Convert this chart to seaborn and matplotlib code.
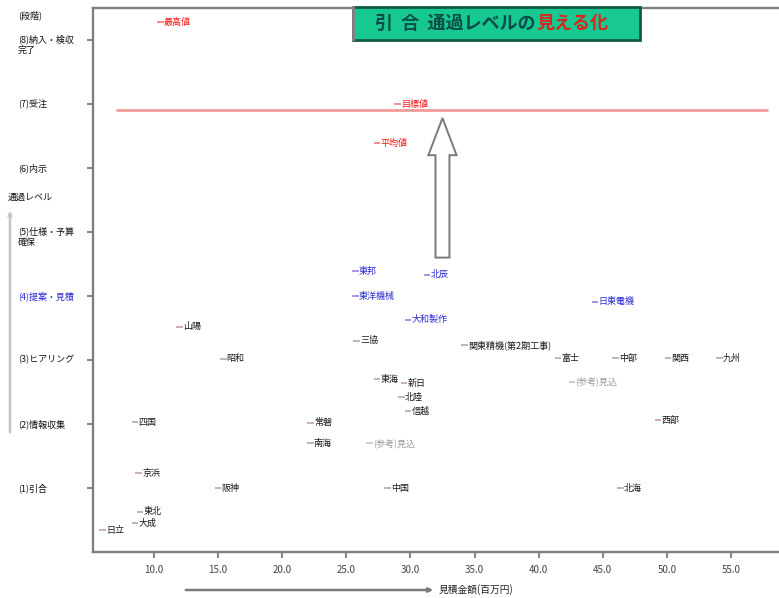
import matplotlib
matplotlib.use("Agg")
import matplotlib.pyplot as plt
import matplotlib.patches as mpatches
import matplotlib.transforms as mtransforms
import seaborn as sns
import pandas as pd

# ---- data -------------------------------------------------------------
level_ticks = [1, 2, 3, 4, 5, 6, 7, 8]
level_names = ["(1)引合", "(2)情報収集", "(3)ヒアリング", "(4)提案・見積",
               "(5)仕様・予算\n確保", "(6)内示", "(7)受注", "(8)納入・検収\n完了"]
price_ticks = [10, 15, 20, 25, 30, 35, 40, 45, 50, 55]

names = ["最高値", "目標値", "平均値",
         "東邦", "北辰", "東洋機械", "大和製作", "日東電機",
         "山陽", "三協", "関東精機(第2期工事)", "昭和", "富士", "中部", "関西", "九州",
         "(参考)見込", "東海", "新日", "北陸", "信越",
         "四国", "常磐", "西部", "南海", "(参考)見込",
         "京浜", "阪神", "中国", "北海", "東北", "大成", "日立"]
prices = [10.5, 29.0, 27.4,
          25.7, 31.3, 25.7, 29.8, 44.4,
          12.0, 25.8, 34.2, 15.4, 41.5, 46.0, 50.1, 54.1,
          42.6, 27.4, 29.5, 29.3, 29.8,
          8.5, 22.2, 49.3, 22.2, 26.8,
          8.8, 15.0, 28.2, 46.4, 8.9, 8.5, 6.0]
levels = [8.28, 7.0, 6.39,
          4.39, 4.33, 4.0, 3.63, 3.91,
          3.52, 3.30, 3.23, 3.02, 3.03, 3.03, 3.03, 3.03,
          2.66, 2.70, 2.64, 2.42, 2.20,
          2.03, 2.02, 2.06, 1.70, 1.70,
          1.23, 1.0, 1.0, 1.0, 0.63, 0.45, 0.34]
groups = ["指標", "指標", "指標",
          "重点", "重点", "重点", "重点", "重点",
          "通常", "通常", "通常", "通常", "通常", "通常", "通常", "通常",
          "参考", "通常", "通常", "通常", "通常",
          "通常", "通常", "通常", "通常", "参考",
          "通常", "通常", "通常", "通常", "通常", "通常", "通常"]
target_level = 6.9
target_span = [7.1, 57.8]
arrow_from, arrow_to, arrow_x = 4.6, 6.78, 32.5

text_colors = {"指標": "#ff1010", "重点": "#2a2ad2", "通常": "#1a1a1a", "参考": "#9a9a9a"}
marker_colors = {"指標": "#ff8080", "重点": "#a08ce0", "通常": "#c8a8b8", "参考": "#c8c8d8"}

df = pd.DataFrame({"price": prices, "level": levels, "name": names, "group": groups})

# ---- figure -----------------------------------------------------------
sns.set_style("white")
plt.rcParams["font.family"] = ["Noto Sans CJK JP", "DejaVu Sans"]

W, H = 779, 598
fig = plt.figure(figsize=(W / 100, H / 100), dpi=100)
ax = fig.add_axes([93 / W, 46 / H, (W - 93) / W, 544 / H])

sns.scatterplot(data=df, x="price", y="level", hue="group", palette=marker_colors,
                marker="_", s=22, linewidth=1.3, legend=False, ax=ax, zorder=3)

for _, r in df.iterrows():
    ax.annotate(r["name"], (r["price"], r["level"]), xytext=(2.5, 0),
                textcoords="offset points", ha="left", va="center",
                fontsize=6.5, color=text_colors[r["group"]], zorder=4)

# target line
ax.plot(target_span, [target_level, target_level], color="#f59a9a", lw=2.0, zorder=2)

# hollow arrow toward the target
ax.add_patch(mpatches.FancyArrow(arrow_x, arrow_from, 0, arrow_to - arrow_from,
                                 width=1.09, head_width=2.2, head_length=0.58,
                                 length_includes_head=True, facecolor="white",
                                 edgecolor="#7a7a7a", lw=1.4, zorder=3))

ax.set_xlim(5.24, 58.75)
ax.set_ylim(0, 8.5)
ax.set_xlabel("")
ax.set_ylabel("")

ax.set_xticks(price_ticks)
ax.set_xticklabels([f"{v:.1f}" for v in price_ticks], fontsize=7, color="#444444")
ax.set_yticks(level_ticks)
ax.set_yticklabels([""] * len(level_ticks))
ax.tick_params(axis="both", direction="out", length=4.3, width=1.5, color="#8a8a8a",
               left=True, bottom=True, pad=5)

for side in ["left", "bottom", "top"]:
    ax.spines[side].set_color("#808080")
    ax.spines[side].set_linewidth(1.7)
ax.spines["right"].set_visible(False)

# level names at the left
ytrans = mtransforms.blended_transform_factory(fig.transFigure, ax.transData)
for lv, txt in zip(level_ticks, level_names):
    col = "#2a2ad2" if lv == 4 else "#111111"
    if "\n" in txt:
        ax.text(18 / W, lv + 0.085, txt, transform=ytrans, ha="left", va="top",
                fontsize=6.5, color=col, linespacing=1.25, clip_on=False)
    else:
        ax.text(18 / W, lv, txt, transform=ytrans, ha="left", va="center",
                fontsize=6.5, color=col, clip_on=False)
ax.text(18 / W, 8.39, "(段階)", transform=ytrans, ha="left", va="center",
        fontsize=6.5, color="#111111", clip_on=False)

# axis titles with guide arrows
fig.text(8 / W, 1 - 197 / H, "通過レベル", ha="left", va="center", fontsize=6.5, color="#111111")
fig.add_artist(mpatches.FancyArrowPatch((10 / W, 1 - 435 / H), (10 / W, 1 - 208 / H),
                                        transform=fig.transFigure, arrowstyle="-|>",
                                        mutation_scale=5, color="#c4c4c4", lw=1.8))
fig.add_artist(mpatches.FancyArrowPatch((183 / W, 8 / H), (436 / W, 8 / H),
                                        transform=fig.transFigure, arrowstyle="-|>",
                                        mutation_scale=6, color="#7a7a7a", lw=1.8))
fig.text(439 / W, 8 / H, "見積金額(百万円)", ha="left", va="center", fontsize=7, color="#222222")

# title box
fig.add_artist(mpatches.Rectangle((353 / W, 1 - 40 / H), 287 / W, 33 / H,
                                  transform=fig.transFigure, facecolor="#17c890",
                                  edgecolor="#0d5c46", lw=2.0, zorder=5))
fig.add_artist(mpatches.Rectangle((352 / W, 1 - 41 / H), 3 / W, 35 / H,
                                  transform=fig.transFigure, facecolor="#808080",
                                  edgecolor="none", zorder=6))
head = fig.text(375 / W, 1 - 23 / H, "引  合  通過レベルの", ha="left", va="center",
                fontsize=13, color="#0a4d48", weight="bold", zorder=7)
fig.add_artist(matplotlib.text.Annotation("見える化", xy=(1, 0.5), xycoords=head,
                                          xytext=(1, 0), textcoords="offset points",
                                          ha="left", va="center", fontsize=13,
                                          color="#d8261c", weight="bold", zorder=7))

fig.savefig("out.png", dpi=100)
